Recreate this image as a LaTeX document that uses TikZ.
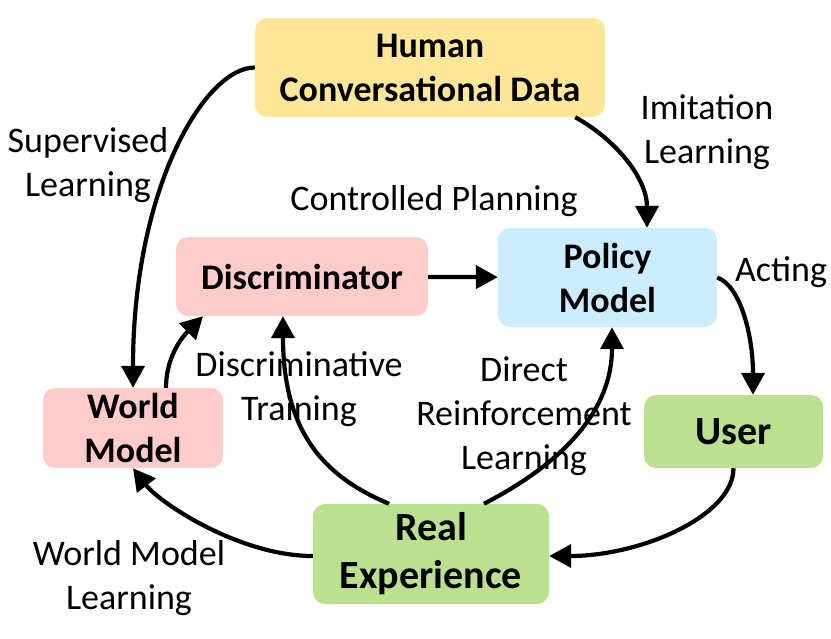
\documentclass[tikz,border=0pt]{standalone}
\usepackage{fontspec}
\setmainfont{Carlito}
\usetikzlibrary{arrows.meta}
\definecolor{cyellow}{RGB}{255,230,153}
\definecolor{cpink}{RGB}{255,204,204}
\definecolor{cblue}{RGB}{204,236,255}
\definecolor{cgreen}{RGB}{187,224,143}
\tikzset{
  box/.style={rectangle, rounded corners=12pt, draw=none, inner sep=0pt, align=center,
    font=\fontsize{36}{44}\selectfont\bfseries},
  bigbox/.style={box, font=\fontsize{40}{48}\selectfont\bfseries},
  lbl/.style={inner sep=0pt, align=center, font=\fontsize{36}{44}\selectfont},
  conn/.style={line width=4.2pt, -{Triangle[length=22pt,width=23pt]}},
}
\begin{document}
\begin{tikzpicture}[x=1pt,y=1pt]
\useasboundingbox (0,0) rectangle (831,-638);
% nodes
\node[box, fill=cyellow, minimum width=350pt, minimum height=99pt] (human) at (430,-67.5) {Human\\Conversational Data};
\node[box, fill=cpink, minimum width=252pt, minimum height=79pt] (disc) at (302,-276.5) {Discriminator};
\node[box, fill=cblue, minimum width=219pt, minimum height=99pt] (policy) at (607.5,-277.5) {Policy\\Model};
\node[box, fill=cpink, minimum width=180pt, minimum height=80pt] (world) at (133,-428) {World\\Model};
\node[bigbox, fill=cgreen, minimum width=179pt, minimum height=73pt] (user) at (733.5,-431.5) {User};
\node[bigbox, fill=cgreen, minimum width=236pt, minimum height=100pt] (real) at (431,-554) {Real\\Experience};
% labels
\node[lbl] (supl) at (88,-165) {Supervised\\Learning};
\node[lbl] (imil) at (707,-132) {Imitation\\Learning};
\node[lbl] (ctrl) at (434,-201) {Controlled Planning};
\node[lbl] (act) at (781,-272) {Acting};
\node[lbl] (dtrain) at (299,-389) {Discriminative\\Training};
\node[lbl] (drl) at (524,-416) {Direct\\Reinforcement\\Learning};
\node[lbl] (wml) at (129,-578) {World Model\\Learning};
% connectors
\draw[conn] (human.west) .. controls +(-50,0) and +(0,200) .. (world.north);
\draw[conn] ([xshift=-30pt]human.south east) .. controls +(40,-22) and +(0,50) .. ([xshift=39.5pt]policy.north);
\draw[conn] (disc) -- (policy);
\draw[conn] (policy.east) .. controls +(23,-8) and +(0,60) .. ([xshift=19.5pt]user.north);
\draw[conn] (user.south) .. controls +(0,-48) and +(91,0) .. ([yshift=-2pt]real.east);
\draw[conn] ([yshift=-2pt]real.west) .. controls +(-73,0) and +(27,-35) .. (world.south);
\draw[conn] ([xshift=-42pt]real.north) .. controls +(-59,25) and +(0,-122) .. ([xshift=-19pt]disc.south);
\draw[conn] ([xshift=53pt]real.north) .. controls +(46,24) and +(0,-102) .. ([xshift=4.5pt]policy.south);
\draw[conn] ([xshift=33pt]world.north) .. controls +(0,36) and +(-15,-15) .. ([xshift=-99pt]disc.south);
\end{tikzpicture}
\end{document}
